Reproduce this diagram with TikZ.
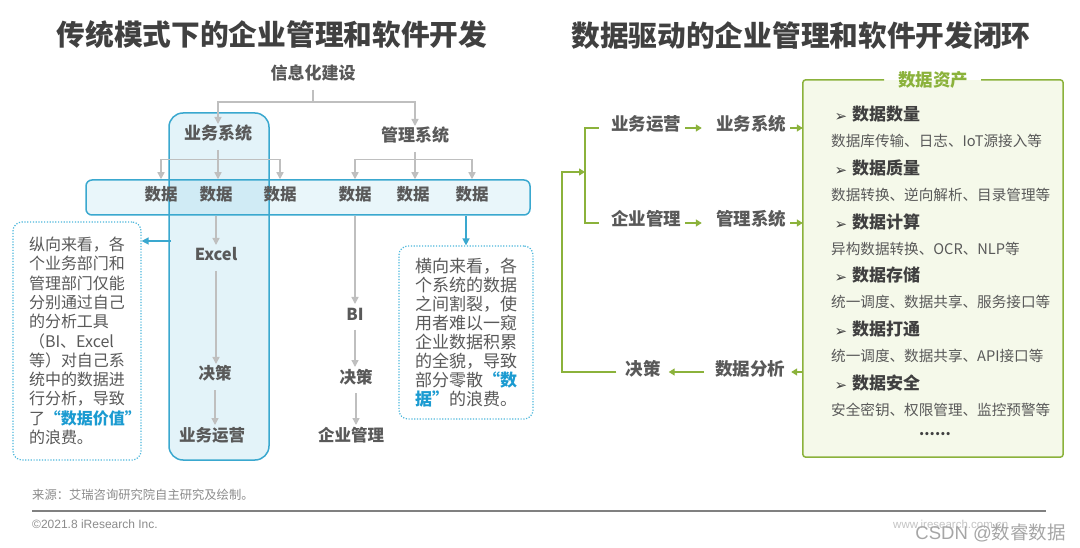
\documentclass[tikz,border=0pt]{standalone}
\usepackage{fontspec}
\setmainfont{Noto Sans CJK SC}
\newfontfamily\arialf{Liberation Sans}
\newfontfamily\dejavu{DejaVu Sans}
\newfontfamily\fwq[RawFeature=+fwid]{Noto Sans CJK SC}
\usetikzlibrary{arrows.meta,calc}
\definecolor{ttl}{HTML}{404040}
\definecolor{lg}{HTML}{595959}
\definecolor{ag}{HTML}{BFBFBF}
\definecolor{cyl}{HTML}{3AA8CF}
\definecolor{cyf}{HTML}{2AA7D5}
\definecolor{cyd}{HTML}{4DB8DC}
\definecolor{hlc}{HTML}{1B9BD1}
\definecolor{gr}{HTML}{8BB23B}
\definecolor{grf}{HTML}{F5F9EA}
\definecolor{ft}{HTML}{8C8C8C}
\definecolor{fl}{HTML}{808080}
\definecolor{wmc}{HTML}{A6A6A6}
\definecolor{wwc}{HTML}{C4C4C4}
\newcommand{\hlt}{\bfseries\color{hlc}}
\tikzset{
  ttlst/.style={font=\bfseries\fontsize{28.7}{28.7}\selectfont, text=ttl, inner sep=0pt},
  lbl/.style={font=\bfseries\fontsize{17}{17}\selectfont, text=lg, inner sep=0pt, text height=0.8em, text depth=0.2em, outer sep=8pt},
  collbl/.style={lbl, font=\bfseries\fontsize{16.5}{16.5}\selectfont},
  datlbl/.style={font=\bfseries\fontsize{16.5}{16.5}\selectfont, text=lg, inner sep=0pt, text height=0.8em, text depth=0.2em},
  rlbl/.style={font=\bfseries\fontsize{17.5}{17.5}\selectfont, text=lg, inner sep=0pt, text height=0.8em, text depth=0.2em},
  garrow/.style={draw=ag, line width=1.4pt, -{Triangle[width=7pt,length=7pt]}},
  gline/.style={draw=ag, line width=1.4pt},
  carrow/.style={draw=cyl, line width=1.4pt, -{Triangle[width=7pt,length=7pt]}},
  grarrow/.style={draw=gr, line width=1.4pt, -{Triangle[width=7pt,length=6pt]}},
  grline/.style={draw=gr, line width=1.4pt},
  tallbox/.style={draw=cyl, line width=1.5pt, fill=cyf, fill opacity=0.13, draw opacity=1, rounded corners=14pt, minimum width=100pt, minimum height=347pt, inner sep=0pt},
  bandst/.style={draw=cyl, line width=1.5pt, fill=cyf, fill opacity=0.10, draw opacity=1, rounded corners=6pt, minimum width=444pt, minimum height=35pt, inner sep=0pt},
  dotbox/.style={draw=cyd, line width=1.2pt, dash pattern=on 1.2pt off 1.6pt, rounded corners=9pt, inner sep=0pt, align=left, text=lg},
  ihead/.style={font=\bfseries\fontsize{17}{17}\selectfont, text=ttl, inner sep=0pt, text height=0.8em, text depth=0.2em, anchor=west},
  isub/.style={font=\fontsize{14.6}{14.6}\selectfont, text=lg, inner sep=0pt, text height=0.8em, text depth=0.2em, anchor=west},
  bul/.style={font=\dejavu\bfseries\fontsize{15}{15}\selectfont, text=ttl, inner sep=0pt},
  footst/.style={font=\fontsize{12.3}{12.3}\selectfont, text=ft, inner sep=0pt, anchor=west},
}
\begin{document}
\begin{tikzpicture}[x=1pt,y=-1pt]
\useasboundingbox (0,0) rectangle (1080,548);
\fill[white] (0,0) rectangle (1080,548);

% ---------------- titles ----------------
\node[ttlst] (t1) at (272,35) {传统模式下的企业管理和软件开发};
\node[ttlst] (t2) at (801,36) {数据驱动的企业管理和软件开发闭环};

% ---------------- left diagram ----------------
\node[tallbox] (ywbox) at (219,286.5) {};
\node[bandst] (band) at (308,197.5) {};

\node[lbl] (xx) at (313,77) {信息化建设};
\node[lbl] (yw) at (218,137) {业务系统};
\node[lbl] (gl) at (415,139) {管理系统};

\node[datlbl] (d1) at (161,198) {数据};
\node[datlbl] (d2) at (216,198) {数据};
\node[datlbl] (d3) at (280,198) {数据};
\node[datlbl] (d4) at (355,198) {数据};
\node[datlbl] (d5) at (413,198) {数据};
\node[datlbl] (d6) at (472,198) {数据};

\coordinate (xxj) at (313,102);
\draw[gline] (xx.south) -- (xxj);
\draw[garrow] (xxj) -| (yw.north);
\draw[garrow] (xxj) -| (gl.north);

\path (yw.south) ++(0,9.5) coordinate (ywbar);
\path (gl.south) ++(0,7.5) coordinate (glbar);
\draw[gline] (yw.south) -- (ywbar);
\draw[gline] (ywbar -| d1) -- (ywbar -| d3);
\draw[garrow] (ywbar -| d1) -- (d1 |- band.north);
\draw[garrow] (ywbar) -- (ywbar |- band.north);
\draw[garrow] (ywbar -| d3) -- (d3 |- band.north);
\draw[gline] (gl.south) -- (glbar);
\draw[gline] (glbar -| d4) -- (glbar -| d6);
\draw[garrow] (glbar -| d4) -- (d4 |- band.north);
\draw[garrow] (glbar) -- (glbar |- band.north);
\draw[garrow] (glbar -| d6) -- (d6 |- band.north);

% left column
\node[collbl] (excel) at (216,258) {Excel};
\node[collbl] (jc1) at (215,377) {决策};
\node[collbl] (yy1) at (212,438) {业务运营};
\draw[garrow] (excel.north |- band.south) -- (excel.north);
\draw[garrow] (excel.south) -- (excel.south |- jc1.north);
\draw[garrow] (jc1.south) -- (jc1.south |- yy1.north);

% management column
\node[collbl] (bi) at (355,317) {BI};
\node[collbl] (jc2l) at (356,380) {决策};
\node[collbl] (qy1) at (351,438) {企业管理};
\draw[garrow] (bi.north |- band.south) -- (bi.north);
\draw[garrow] (bi.south) -- (bi.south |- jc2l.north);
\draw[garrow] (jc2l.south) -- (jc2l.south |- qy1.north);

% dotted explanation boxes
\node[dotbox, minimum width=128pt, minimum height=238pt, text width=96pt,
      font=\fontsize{16}{19.3}\selectfont] (lbox) at (77,341)
  {纵向来看，各\\个业务部门和\\管理部门仅能\\分别通过自己\\的分析工具\\（BI、Excel\\等）对自己系\\统中的数据进\\行分析，导致\\了{\hlt{\fwq “}数据价值{\fwq ”}}\\的浪费。};
\node[dotbox, minimum width=134pt, minimum height=173pt, text width=102pt,
      font=\fontsize{17}{19}\selectfont] (rbox) at (466,332.5)
  {横向来看，各\\个系统的数据\\之间割裂，使\\用者难以一窥\\企业数据积累\\的全貌，导致\\部分零散{\hlt{\fwq “}数}\\{\hlt 据{\fwq ”}}的浪费。};

\coordinate (lah) at (171,241);
\draw[carrow] (lah) -- (lah -| lbox.east);
\draw[carrow] (rbox.north |- band.south) -- (rbox.north);

% ---------------- right diagram ----------------
\node[fill=grf, inner sep=0pt, minimum width=260pt, minimum height=377pt] (gbox) at (933,268.5) {};
\draw[gr, line width=1.5pt, rounded corners=3pt]
  ([xshift=-49pt]gbox.north) -- (gbox.north west) -- (gbox.south west)
  -- (gbox.south east) -- (gbox.north east) -- ([xshift=48pt]gbox.north);
\node[font=\bfseries\fontsize{17.5}{17.5}\selectfont, text=gr, inner sep=0pt] (gt) at (gbox.north) {数据资产};

\node[bul] (b1) at (841,117.5) {➢};
\node[ihead] (h1) at (852,117.5) {数据数量};
\node[isub] (s1) at (831,143.5) {数据库传输、日志、IoT源接入等};
\node[bul] (b2) at (841,171.3) {➢};
\node[ihead] (h2) at (852,171.3) {数据质量};
\node[isub] (s2) at (831,197.3) {数据转换、逆向解析、目录管理等};
\node[bul] (b3) at (841,225.1) {➢};
\node[ihead] (h3) at (852,225.1) {数据计算};
\node[isub] (s3) at (831,251.1) {异构数据转换、OCR、NLP等};
\node[bul] (b4) at (841,278.9) {➢};
\node[ihead] (h4) at (852,278.9) {数据存储};
\node[isub] (s4) at (831,304.9) {统一调度、数据共享、服务接口等};
\node[bul] (b5) at (841,332.7) {➢};
\node[ihead] (h5) at (852,332.7) {数据打通};
\node[isub] (s5) at (831,358.7) {统一调度、数据共享、API接口等};
\node[bul] (b6) at (841,386.5) {➢};
\node[ihead] (h6) at (852,386.5) {数据安全};
\node[isub] (s6) at (831,412.5) {安全密钥、权限管理、监控预警等};
\node[font=\bfseries\fontsize{15}{15}\selectfont, text=ttl, inner sep=0pt, text height=0.8em, text depth=0.2em] (dots) at (935,432.5) {......};

\node[rlbl] (ywyy) at (646,128) {业务运营};
\node[rlbl] (ywxt) at (751,128) {业务系统};
\node[rlbl] (qygl) at (646,223) {企业管理};
\node[rlbl] (glxt) at (751,223) {管理系统};
\node[rlbl] (jc2) at (643,372) {决策};
\node[rlbl] (sjfx) at (750,372) {数据分析};

\draw[grarrow, shorten <=4pt, shorten >=14pt] (ywyy.east) -- (ywxt.west);
\draw[grarrow, shorten <=4pt] (ywxt.east) -- (ywxt.east -| gbox.west);
\draw[grarrow, shorten <=4pt, shorten >=14pt] (qygl.east) -- (glxt.west);
\draw[grarrow, shorten <=4pt] (glxt.east) -- (glxt.east -| gbox.west);
\draw[grarrow, shorten >=6pt] (sjfx.east -| gbox.west) -- (sjfx.east);
\draw[grarrow, shorten <=11pt, shorten >=8pt] (sjfx.west) -- (jc2.east);

\coordinate (brt) at (585,128);
\coordinate (brb) at (585,223);
\coordinate (brm) at (585,172);
\coordinate (lpb) at (562,372);
\coordinate (lpt) at (562,172);
\draw[grline] ([xshift=-12pt]ywyy.west) -- (brt) -- (brb) -- ([xshift=-12pt]qygl.west);
\draw[grarrow] ([xshift=-9pt]jc2.west) -- (lpb) -- (lpt) -- (brm);

% ---------------- footer ----------------
\node[footst] (src) at (32,495) {来源：艾瑞咨询研究院自主研究及绘制。};
\draw[fl, line width=1.5pt] (32,511) -- (1046,511);
\node[footst, font=\arialf\fontsize{12}{12}\selectfont] (cp) at (32,524) {©2021.8 iResearch Inc.};
\node[inner sep=0pt, anchor=west, text=wwc, font=\arialf\fontsize{11.5}{11.5}\selectfont] (www) at (893,524) {www.iresearch.com.cn};
\node[inner sep=0pt, anchor=east, text=wmc, font=\fontsize{18.5}{18.5}\selectfont] (wm) at (1066,533) {{\arialf CSDN @}数睿数据};
\end{tikzpicture}
\end{document}
